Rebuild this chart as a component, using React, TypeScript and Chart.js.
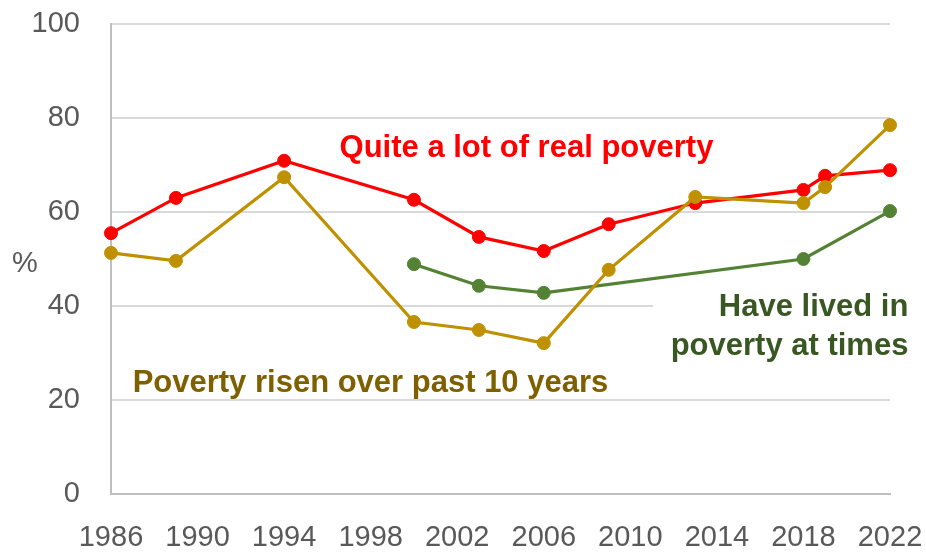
import React, { useEffect, useRef } from "react";
import { Chart, registerables } from "chart.js";

Chart.register(...registerables);

const yearTicks = [1986, 1990, 1994, 1998, 2002, 2006, 2010, 2014, 2018, 2022];
const yTicks = [0, 20, 40, 60, 80, 100];

const realPovertyYears = [1986, 1989, 1994, 2000, 2003, 2006, 2009, 2013, 2018, 2019, 2022];
const realPovertyValues = [55.5, 63.0, 70.9, 62.6, 54.7, 51.7, 57.4, 61.9, 64.7, 67.7, 68.9];

const risenYears = [1986, 1989, 1994, 2000, 2003, 2006, 2009, 2013, 2018, 2019, 2022];
const risenValues = [51.3, 49.6, 67.4, 36.6, 34.9, 32.1, 47.7, 63.2, 61.9, 65.3, 78.5];

const livedYears = [2000, 2003, 2006, 2018, 2022];
const livedValues = [48.9, 44.3, 42.8, 50.0, 60.2];

const labelReal = "Quite a lot of real poverty";
const labelRisen = "Poverty risen over past 10 years";
const labelLived = ["Have lived in", "poverty at times"];
const yTitle = "%";

const FONT = '"Liberation Sans", Arial, sans-serif';

const toPoints = (xs: number[], ys: number[]) => xs.map((x, i) => ({ x, y: ys[i] }));

export default function App() {
  const ref = useRef<HTMLCanvasElement | null>(null);

  useEffect(() => {
    if (!ref.current) return;

    const annotations = {
      id: "annotations",
      beforeDatasetsDraw(chart: any) {
        const { ctx, scales } = chart;
        const x = scales.x;
        const y = scales.y;
        ctx.save();
        ctx.fillStyle = "#FFFFFF";
        const left = x.getPixelForValue(2011.05);
        const top = y.getPixelForValue(44);
        const bottom = y.getPixelForValue(27.5);
        ctx.fillRect(left, top, 926 - left, bottom - top);
        ctx.restore();
      },
      afterDatasetsDraw(chart: any) {
        const { ctx, scales } = chart;
        const x = scales.x;
        const y = scales.y;
        ctx.save();
        ctx.textBaseline = "alphabetic";
        ctx.font = `bold 31px ${FONT}`;

        ctx.fillStyle = "#FF0000";
        ctx.textAlign = "center";
        ctx.fillText(labelReal, x.getPixelForValue(2005.2), y.getPixelForValue(71.7));

        ctx.fillStyle = "#7F6000";
        ctx.textAlign = "left";
        ctx.fillText(labelRisen, x.getPixelForValue(1987), y.getPixelForValue(21.7));

        ctx.fillStyle = "#385723";
        ctx.textAlign = "right";
        ctx.fillText(labelLived[0], x.getPixelForValue(2022.85), y.getPixelForValue(37.87));
        ctx.fillText(labelLived[1], x.getPixelForValue(2022.85), y.getPixelForValue(29.57));

        ctx.fillStyle = "#595959";
        ctx.font = `29px ${FONT}`;
        ctx.textAlign = "center";
        ctx.textBaseline = "middle";
        ctx.fillText(yTitle, 25, y.getPixelForValue(49.0));
        ctx.restore();
      },
    };

    const chart = new Chart(ref.current, {
      type: "line",
      data: {
        datasets: [
          {
            label: labelRisen,
            data: toPoints(risenYears, risenValues),
            borderColor: "#BF9000",
            backgroundColor: "#BF9000",
            pointBackgroundColor: "#BF9000",
            pointBorderColor: "#BF9000",
            borderWidth: 3.2,
            pointRadius: 6.5,
            pointBorderWidth: 1,
            tension: 0,
            order: 1,
          },
          {
            label: labelReal,
            data: toPoints(realPovertyYears, realPovertyValues),
            borderColor: "#FF0000",
            backgroundColor: "#FF0000",
            pointBackgroundColor: "#FF0000",
            pointBorderColor: "#FF0000",
            borderWidth: 3.2,
            pointRadius: 6.5,
            pointBorderWidth: 1,
            tension: 0,
            order: 2,
          },
          {
            label: labelLived.join(" "),
            data: toPoints(livedYears, livedValues),
            borderColor: "#548235",
            backgroundColor: "#548235",
            pointBackgroundColor: "#548235",
            pointBorderColor: "#548235",
            borderWidth: 3.2,
            pointRadius: 6.5,
            pointBorderWidth: 1,
            tension: 0,
            order: 3,
          },
        ],
      },
      options: {
        responsive: false,
        animation: false,
        clip: false,
        layout: { padding: { left: 0, right: 36, top: 24, bottom: 0 } },
        plugins: {
          legend: { display: false },
          tooltip: { enabled: false },
          title: { display: false },
        },
        scales: {
          x: {
            type: "linear",
            min: yearTicks[0],
            max: yearTicks[yearTicks.length - 1],
            afterBuildTicks: (axis: any) => {
              axis.ticks = yearTicks.map((v) => ({ value: v }));
            },
            afterFit: (axis: any) => {
              axis.height = 58;
              axis.paddingLeft = 0;
              axis.paddingRight = 0;
            },
            grid: { display: false, drawTicks: false },
            border: { display: true, color: "#BFBFBF", width: 2 },
            ticks: {
              autoSkip: false,
              maxRotation: 0,
              padding: 27,
              color: "#595959",
              font: { family: FONT, size: 29 },
              callback: (v: any) => String(v),
            },
          },
          y: {
            min: 0,
            max: 100,
            afterBuildTicks: (axis: any) => {
              axis.ticks = yTicks.map((v) => ({ value: v }));
            },
            afterFit: (axis: any) => {
              axis.width = 111;
              axis.paddingTop = 0;
              axis.paddingBottom = 0;
            },
            grid: { color: "#D9D9D9", lineWidth: 2, drawTicks: false },
            border: { display: true, color: "#BFBFBF", width: 2 },
            ticks: {
              padding: 31,
              color: "#595959",
              font: { family: FONT, size: 29 },
              callback: (v: any) => String(v),
            },
          },
        },
      },
      plugins: [annotations],
    } as any);

    return () => chart.destroy();
  }, []);

  return (
    <div style={{ position: "absolute", left: 0, top: 0, width: 926, height: 552, background: "#FFFFFF" }}>
      <canvas ref={ref} width={926} height={552} style={{ display: "block" }} />
    </div>
  );
}
